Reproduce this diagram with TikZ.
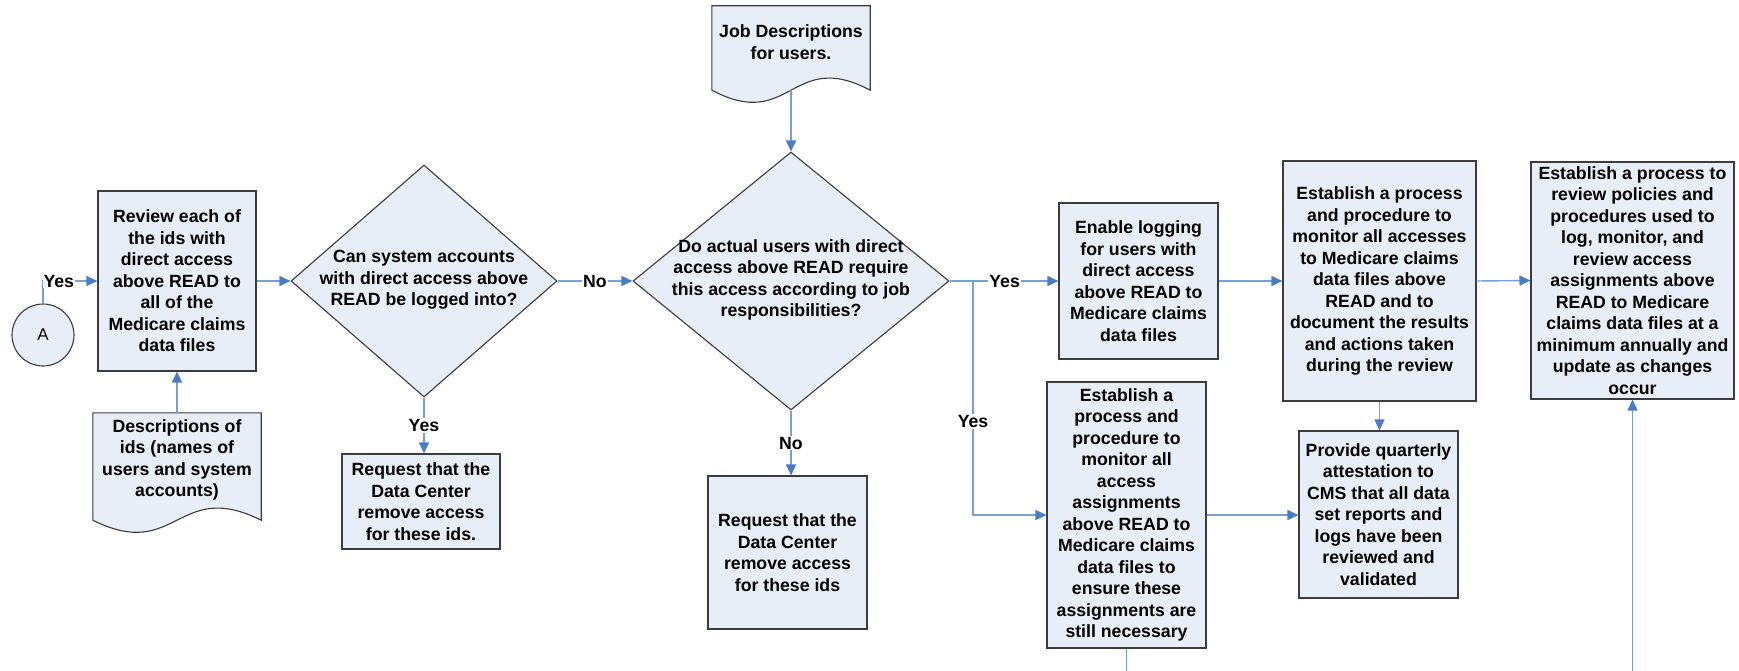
\documentclass[tikz,border=0pt]{standalone}
\usepackage{fontspec}
\setmainfont{Liberation Sans}
\usetikzlibrary{shapes.geometric,arrows.meta,calc}
\pgfdeclarelayer{background}
\pgfsetlayers{background,main}
\definecolor{boxfill}{RGB}{232,238,247}
\definecolor{boxline}{RGB}{60,60,60}
\definecolor{conline}{RGB}{120,160,214}
\definecolor{arrowc}{RGB}{72,124,196}
\begin{document}
\begin{tikzpicture}[x=1pt,y=-1pt,
  font=\fontsize{17.7}{21.5}\selectfont\bfseries,
  box/.style={draw=boxline, fill=boxfill, line width=1.1pt, align=center, inner sep=0pt},
  dmd/.style={draw=boxline, fill=boxfill, line width=1.1pt, diamond, inner sep=0pt},
  txt/.style={align=center, inner sep=0pt},
  docnode/.style={inner sep=0pt},
  docshape/.style={draw=boxline, fill=boxfill, line width=1.1pt},
  conn/.style={draw=conline, line width=1.4pt},
  arr/.style={conn, -{Triangle[length=11pt,width=10pt,color=arrowc,fill=arrowc]}},
  lbl/.style={fill=white, inner sep=1pt},
]
\useasboundingbox (0,0) rectangle (1739,671);

% circle A
\node[circle, draw=boxline, fill=boxfill, line width=1.1pt, minimum size=62pt, inner sep=0pt,
      font=\fontsize{17}{20}\selectfont] (A) at (43,335) {A};

% review box
\node[box, minimum width=158pt, minimum height=180pt] (review) at (177,281)
  {Review each of\\the ids with\\direct access\\above READ to\\all of the\\Medicare claims\\data files};

% descriptions document
\node[docnode, minimum width=168pt, minimum height=107pt] (desc) at (177,466.5) {};
\node[txt] (desctext) at (177,460) {Descriptions of\\ids (names of\\users and system\\accounts)};

% diamond 1
\node[dmd, minimum width=266pt, minimum height=232pt] (d1) at (424,281) {};
\node[txt] (d1text) at (424,280) {Can system accounts\\with direct access above\\READ be logged into?};

% request 1
\node[box, minimum width=158pt, minimum height=95pt] (req1) at (421,501.5)
  {Request that the\\Data Center\\remove access\\for these ids.};

% job descriptions document
\node[docnode, minimum width=158pt, minimum height=84pt] (job) at (791,48) {};
\node[txt] (jobtext) at (791,42) {Job Descriptions\\for users.};

% diamond 2
\node[dmd, minimum width=316pt, minimum height=258pt] (d2) at (791,281) {};
\node[txt] (d2text) at (791,280) {Do actual users with direct\\access above READ require\\this access according to job\\responsibilities?};

% request 2
\node[box, minimum width=159pt, minimum height=153pt] (req2) at (787.5,552.5)
  {Request that the\\Data Center\\remove access\\for these ids};

% enable logging
\node[box, minimum width=159pt, minimum height=156pt] (enable) at (1138.5,281)
  {Enable logging\\for users with\\direct access\\above READ to\\Medicare claims\\data files};

% establish monitor
\node[box, minimum width=193pt, minimum height=240pt] (em) at (1379.5,281)
  {Establish a process\\and procedure to\\monitor all accesses\\to Medicare claims\\data files above\\READ and to\\document the results\\and actions taken\\during the review};

% establish assignments
\node[box, minimum width=159pt, minimum height=266pt] (ea) at (1126.5,515)
  {Establish a\\process and\\procedure to\\monitor all\\access\\assignments\\above READ to\\Medicare claims\\data files to\\ensure these\\assignments are\\still necessary};

% provide
\node[box, minimum width=159pt, minimum height=167pt] (prov) at (1378.5,514.5)
  {Provide quarterly\\attestation to\\CMS that all data\\set reports and\\logs have been\\reviewed and\\validated};

% final
\node[box, minimum width=203pt, minimum height=237pt] (final) at (1632.5,280.5)
  {Establish a process to\\review policies and\\procedures used to\\log, monitor, and\\review access\\assignments above\\READ to Medicare\\claims data files at a\\minimum annually and\\update as changes\\occur};

% document shapes on background
\begin{pgfonlayer}{background}
\draw[docshape] (desc.north west) -- (desc.north east) -- (desc.south east)
  .. controls ($(desc.south)+(0,-42)$) and ($(desc.south)+(0,42)$) .. (desc.south west) -- cycle;
\draw[docshape] (job.north west) -- (job.north east) -- (job.south east)
  .. controls ($(job.south)+(0,-42)$) and ($(job.south)+(0,42)$) .. (job.south west) -- cycle;
\end{pgfonlayer}

% connectors
\draw[arr] (A.north) |- (review.west) node[lbl, pos=0.645] {Yes};
\draw[arr] (desc.north) -- (review.south);
\draw[arr] (review.east) -- (d1.west);
\draw[arr] (d1.east) -- (d2.west) node[lbl, midway] {No};
\draw[arr] (d1.south) -- (d1.south |- req1.north) node[lbl, midway] {Yes};
\draw[arr] (job.south) -- (d2.north);
\draw[arr] (d2.south) -- (d2.south |- req2.north) node[lbl, midway] {No};
\coordinate (br) at (973,281);
\draw[conn] (d2.east) -- (br);
\draw[arr] (br) -- (enable.west) node[lbl, pos=0.37] {Yes};
\draw[arr] (br) |- (ea.west) node[lbl, pos=0.3] {Yes};
\draw[arr] (enable.east) -- (em.west);
\draw[arr] (em.south) -- (em.south |- prov.north);
\draw[arr] (ea.east) -- (ea.east -| prov.west);
\draw[arr] (em.east) -- (final.west);
\coordinate (eaend) at (1126.5,671);
\draw[conn] (ea.south) -- (eaend);
\coordinate (finstart) at (1632.5,671);
\draw[arr] (finstart) -- (final.south);
\end{tikzpicture}
\end{document}
